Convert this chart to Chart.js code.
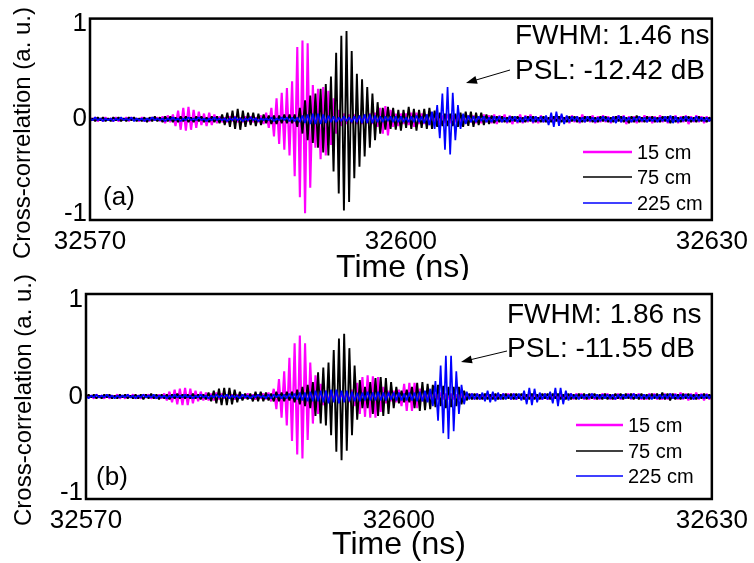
<!DOCTYPE html>
<html>
<head>
<meta charset="utf-8">
<title>Cross-correlation</title>
<script src="https://cdn.jsdelivr.net/npm/chart.js@4.4.1/dist/chart.umd.min.js"></script>
<style>
  html, body { margin: 0; padding: 0; background: #fff; }
  #wrap { position: relative; width: 754px; height: 563px; overflow: hidden; }
  #wrap canvas { position: absolute; left: 0; }
  #chart-a { top: 0; }
  #chart-b { top: 266px; }
</style>
</head>
<body>
<div id="wrap">
  <canvas id="chart-a" width="754" height="280"></canvas>
  <canvas id="chart-b" width="754" height="297"></canvas>
</div>
<script>
// sampling of the traces (ns)
const T_START = 32570;
const T_STEP = 0.25;

const SERIES_LABELS = ['15 cm', '75 cm', '225 cm'];
const X_TICKS = [32570, 32600, 32630];
const Y_TICKS = [-1, 0, 1];

// panel (a)
const a15 = [
  0.02,-0.01,0.02,-0.02,0.01,-0.02,0.02,-0.01,0.01,-0.02,0.02,-0.02,0.01,-0.01,0.02,-0.02,0.02,-0.01,0.01,-0.02,
  0.02,-0.02,0.01,-0.02,0.02,-0.01,0.02,-0.02,0.03,-0.04,0.04,-0.03,0.05,-0.07,0.09,-0.11,0.12,-0.12,0.13,-0.11,
  0.1,-0.09,0.08,-0.06,0.06,-0.07,0.07,-0.06,0.05,-0.04,0.03,-0.03,0.02,-0.03,0.03,-0.02,0.03,-0.03,0.02,-0.03,
  0.03,-0.02,0.03,-0.03,0.02,-0.03,0.04,-0.05,0.07,-0.09,0.12,-0.18,0.22,-0.26,0.28,-0.32,0.33,-0.38,0.4,-0.6,
  0.76,-0.82,0.83,-0.99,0.8,-0.72,0.36,-0.3,0.32,-0.42,0.34,-0.38,0.3,-0.27,0.22,-0.15,0.1,-0.07,0.06,-0.05,
  0.05,-0.04,0.05,-0.05,0.04,-0.05,0.05,-0.04,0.06,-0.05,0.07,-0.08,0.12,-0.15,0.14,-0.17,0.1,-0.08,0.06,-0.07,
  0.06,-0.05,0.06,-0.06,0.07,-0.08,0.07,-0.05,0.06,-0.05,0.05,-0.06,0.05,-0.04,0.04,-0.05,0.04,-0.04,0.05,-0.04,
  0.04,-0.03,0.04,-0.04,0.03,-0.04,0.04,-0.03,0.04,-0.04,0.03,-0.04,0.05,-0.03,0.04,-0.04,0.05,-0.05,0.04,-0.03,
  0.05,-0.04,0.04,-0.05,0.03,-0.04,0.05,-0.04,0.04,-0.03,0.05,-0.04,0.03,-0.04,0.04,-0.03,0.03,-0.04,0.03,-0.03,
  0.03,-0.03,0.04,-0.03,0.03,-0.04,0.04,-0.03,0.03,-0.04,0.05,-0.03,0.03,-0.03,0.04,-0.04,0.03,-0.03,0.04,-0.03,
  0.03,-0.04,0.03,-0.03,0.04,-0.03,0.04,-0.05,0.03,-0.03,0.03,-0.04,0.03,-0.03,0.04,-0.03,0.03,-0.04,0.03,-0.03,
  0.04,-0.03,0.03,-0.04,0.03,-0.03,0.04,-0.04,0.03,-0.03,0.04,-0.05,0.03,-0.03,0.04,-0.03,0.03,-0.04,0.03,-0.02,
  0.02
];
const a75 = [
  -0.02,0.01,-0.02,0.02,-0.01,0.02,-0.02,0.01,-0.02,0.02,-0.01,0.02,-0.02,0.01,-0.02,0.02,-0.01,0.02,-0.02,0.01,
  -0.02,0.02,-0.03,0.02,-0.02,0.03,-0.02,0.02,-0.03,0.03,-0.02,0.03,-0.03,0.02,-0.03,0.03,-0.02,0.03,-0.03,0.02,
  -0.03,0.03,-0.02,0.03,-0.03,0.02,-0.03,0.03,-0.03,0.03,-0.04,0.05,-0.06,0.07,-0.08,0.09,-0.1,0.11,-0.11,0.09,
  -0.08,0.07,-0.06,0.07,-0.07,0.06,-0.06,0.05,-0.04,0.04,-0.05,0.04,-0.05,0.04,-0.04,0.05,-0.04,0.05,-0.04,0.05,
  -0.08,0.12,-0.15,0.2,-0.22,0.25,-0.25,0.27,-0.3,0.32,-0.35,0.37,-0.38,0.45,-0.55,0.7,-0.78,0.88,-0.96,0.93,
  -0.87,0.72,-0.62,0.48,-0.5,0.42,-0.39,0.34,-0.3,0.27,-0.22,0.18,-0.15,0.12,-0.11,0.13,-0.1,0.12,-0.11,0.1,
  -0.12,0.1,-0.09,0.13,-0.1,0.11,-0.12,0.1,-0.09,0.11,-0.1,0.12,-0.1,0.09,-0.08,0.07,-0.07,0.06,-0.07,0.06,
  -0.07,0.06,-0.08,0.07,-0.08,0.08,-0.07,0.08,-0.08,0.07,-0.06,0.07,-0.06,0.05,-0.05,0.04,-0.04,0.03,-0.03,0.03,
  -0.03,0.02,-0.03,0.03,-0.02,0.03,-0.03,0.02,-0.03,0.03,-0.02,0.03,-0.03,0.02,-0.03,0.03,-0.03,0.02,-0.03,0.03,
  -0.02,0.03,-0.03,0.02,-0.03,0.03,-0.02,0.03,-0.03,0.02,-0.03,0.03,-0.02,0.03,-0.03,0.02,-0.03,0.03,-0.02,0.03,
  -0.03,0.02,-0.03,0.03,-0.02,0.03,-0.03,0.02,-0.04,0.03,-0.03,0.04,-0.03,0.02,-0.03,0.03,-0.02,0.03,-0.03,0.02,
  -0.03,0.03,-0.02,0.03,-0.04,0.03,-0.03,0.02,-0.03,0.03,-0.02,0.03,-0.03,0.02,-0.03,0.03,-0.02,0.02,-0.03,0.02,
  -0.02
];
const a225 = [
  0.01,-0.01,0.02,-0.01,0.01,-0.02,0.01,-0.01,0.01,-0.02,0.01,-0.01,0.02,-0.01,0.01,-0.01,0.02,-0.02,0.01,-0.01,
  0.01,-0.02,0.01,-0.01,0.02,-0.01,0.01,-0.01,0.01,-0.02,0.01,-0.01,0.02,-0.01,0.01,-0.02,0.01,-0.01,0.02,-0.01,
  0.01,-0.01,0.02,-0.01,0.01,-0.02,0.01,-0.01,0.02,-0.01,0.01,-0.01,0.01,-0.02,0.01,-0.01,0.02,-0.01,0.01,-0.02,
  0.01,-0.01,0.02,-0.01,0.01,-0.02,0.01,-0.01,0.01,-0.01,0.02,-0.02,0.01,-0.01,0.02,-0.01,0.02,-0.02,0.02,-0.02,
  0.02,-0.03,0.04,-0.04,0.05,-0.05,0.06,-0.05,0.06,-0.05,0.05,-0.04,0.04,-0.03,0.03,-0.03,0.02,-0.02,0.03,-0.02,
  0.02,-0.03,0.03,-0.03,0.04,-0.04,0.05,-0.04,0.05,-0.04,0.04,-0.03,0.03,-0.03,0.03,-0.02,0.03,-0.03,0.03,-0.03,
  0.03,-0.03,0.02,-0.03,0.03,-0.03,0.04,-0.03,0.03,-0.04,0.05,-0.06,0.08,-0.1,0.15,-0.2,0.27,-0.32,0.34,-0.37,
  0.28,-0.22,0.15,-0.1,0.06,-0.05,0.04,-0.03,0.03,-0.03,0.03,-0.02,0.03,-0.03,0.02,-0.03,0.03,-0.02,0.03,-0.03,
  0.02,-0.03,0.03,-0.02,0.03,-0.03,0.02,-0.03,0.03,-0.02,0.03,-0.03,0.03,-0.02,0.03,-0.03,0.04,-0.06,0.07,-0.08,
  0.08,-0.07,0.06,-0.05,0.04,-0.03,0.03,-0.02,0.03,-0.03,0.02,-0.03,0.03,-0.02,0.02,-0.03,0.02,-0.02,0.03,-0.02,
  0.02,-0.03,0.03,-0.04,0.04,-0.03,0.03,-0.02,0.02,-0.03,0.02,-0.02,0.03,-0.02,0.02,-0.03,0.02,-0.02,0.02,-0.03,
  0.02,-0.02,0.03,-0.03,0.04,-0.04,0.03,-0.03,0.02,-0.02,0.03,-0.02,0.02,-0.02,0.03,-0.02,0.02,-0.02,0.02,-0.02,
  0.02
];

// panel (b)
const b15 = [
  0.02,-0.01,0.01,-0.02,0.02,-0.01,0.01,-0.02,0.02,-0.02,0.01,-0.01,0.02,-0.02,0.01,-0.02,0.02,-0.01,0.02,-0.02,
  0.01,-0.02,0.02,-0.01,0.02,-0.02,0.01,-0.02,0.02,-0.02,0.03,-0.04,0.05,-0.06,0.07,-0.08,0.08,-0.09,0.09,-0.09,
  0.08,-0.07,0.06,-0.05,0.05,-0.04,0.04,-0.04,0.03,-0.04,0.04,-0.03,0.03,-0.02,0.02,-0.02,0.02,-0.03,0.02,-0.02,
  0.02,-0.02,0.03,-0.02,0.02,-0.03,0.02,-0.02,0.03,-0.03,0.04,-0.05,0.08,-0.13,0.18,-0.22,0.26,-0.3,0.4,-0.46,
  0.55,-0.6,0.63,-0.64,0.55,-0.45,0.35,-0.28,0.22,-0.18,0.13,-0.09,0.06,-0.05,0.05,-0.04,0.05,-0.05,0.04,-0.05,
  0.05,-0.06,0.07,-0.1,0.14,-0.18,0.2,-0.21,0.22,-0.22,0.21,-0.22,0.2,-0.16,0.1,-0.07,0.06,-0.05,0.06,-0.06,
  0.07,-0.1,0.13,-0.15,0.14,-0.15,0.14,-0.12,0.08,-0.05,0.04,-0.03,0.03,-0.04,0.03,-0.03,0.04,-0.03,0.03,-0.03,
  0.03,-0.03,0.02,-0.03,0.03,-0.03,0.03,-0.02,0.03,-0.03,0.03,-0.03,0.02,-0.03,0.03,-0.03,0.03,-0.02,0.03,-0.03,
  0.03,-0.02,0.03,-0.03,0.03,-0.03,0.02,-0.03,0.03,-0.03,0.03,-0.02,0.03,-0.03,0.02,-0.03,0.03,-0.03,0.02,-0.03,
  0.03,-0.03,0.02,-0.03,0.03,-0.02,0.03,-0.03,0.03,-0.02,0.03,-0.03,0.02,-0.03,0.03,-0.03,0.02,-0.03,0.03,-0.02,
  0.03,-0.03,0.02,-0.03,0.03,-0.03,0.02,-0.02,0.03,-0.03,0.03,-0.02,0.03,-0.03,0.02,-0.03,0.03,-0.02,0.03,-0.03,
  0.02,-0.03,0.03,-0.03,0.03,-0.02,0.03,-0.03,0.04,-0.03,0.03,-0.04,0.03,-0.03,0.04,-0.03,0.03,-0.04,0.03,-0.03,
  0.02
];
const b75 = [
  -0.02,0.02,-0.01,0.02,-0.02,0.01,-0.02,0.02,-0.01,0.02,-0.02,0.01,-0.02,0.02,-0.01,0.02,-0.02,0.01,-0.02,0.02,
  -0.02,0.02,-0.03,0.02,-0.02,0.03,-0.02,0.02,-0.03,0.02,-0.02,0.02,-0.03,0.02,-0.02,0.03,-0.02,0.02,-0.02,0.02,
  -0.02,0.03,-0.02,0.02,-0.03,0.02,-0.03,0.04,-0.05,0.06,-0.07,0.08,-0.09,0.09,-0.09,0.09,-0.08,0.07,-0.06,0.05,
  -0.04,0.03,-0.03,0.03,-0.05,0.05,-0.05,0.05,-0.05,0.04,-0.04,0.03,-0.05,0.05,-0.05,0.04,-0.05,0.05,-0.04,0.05,
  -0.06,0.07,-0.08,0.1,-0.1,0.12,-0.12,0.15,-0.2,0.25,-0.28,0.3,-0.3,0.35,-0.4,0.48,-0.57,0.6,-0.66,0.65,
  -0.56,0.5,-0.4,0.32,-0.24,0.17,-0.12,0.1,-0.12,0.15,-0.18,0.19,-0.2,0.2,-0.2,0.19,-0.18,0.15,-0.12,0.1,
  -0.07,0.06,-0.06,0.07,-0.06,0.1,-0.12,0.14,-0.15,0.15,-0.14,0.13,-0.13,0.12,-0.11,0.12,-0.1,0.11,-0.12,0.1,
  -0.11,0.1,-0.1,0.1,-0.08,0.06,-0.04,0.03,-0.03,0.03,-0.03,0.02,-0.03,0.03,-0.03,0.02,-0.03,0.03,-0.03,0.02,
  -0.03,0.03,-0.02,0.03,-0.03,0.03,-0.02,0.03,-0.03,0.02,-0.03,0.03,-0.03,0.02,-0.03,0.03,-0.02,0.03,-0.03,0.03,
  -0.02,0.03,-0.03,0.02,-0.03,0.03,-0.03,0.02,-0.03,0.03,-0.02,0.03,-0.03,0.03,-0.02,0.03,-0.03,0.02,-0.03,0.03,
  -0.03,0.02,-0.03,0.03,-0.02,0.03,-0.03,0.03,-0.02,0.03,-0.03,0.02,-0.03,0.03,-0.03,0.02,-0.03,0.03,-0.02,0.03,
  -0.03,0.04,-0.03,0.03,-0.04,0.03,-0.03,0.02,-0.03,0.03,-0.02,0.03,-0.03,0.02,-0.03,0.02,-0.02,0.03,-0.02,0.02,
  -0.02
];
const b225 = [
  0.01,-0.02,0.01,-0.01,0.02,-0.01,0.01,-0.01,0.02,-0.01,0.01,-0.02,0.01,-0.01,0.01,-0.01,0.02,-0.01,0.01,-0.02,
  0.01,-0.01,0.02,-0.01,0.01,-0.01,0.02,-0.02,0.01,-0.01,0.01,-0.02,0.01,-0.01,0.02,-0.01,0.01,-0.01,0.02,-0.01,
  0.01,-0.02,0.01,-0.01,0.02,-0.01,0.01,-0.02,0.01,-0.01,0.02,-0.01,0.01,-0.01,0.02,-0.02,0.01,-0.01,0.01,-0.02,
  0.02,-0.01,0.01,-0.02,0.01,-0.01,0.02,-0.01,0.01,-0.02,0.02,-0.02,0.02,-0.01,0.02,-0.02,0.02,-0.02,0.03,-0.02,
  0.03,-0.03,0.04,-0.04,0.04,-0.05,0.05,-0.05,0.06,-0.05,0.06,-0.06,0.06,-0.07,0.07,-0.06,0.07,-0.07,0.06,-0.06,
  0.06,-0.05,0.05,-0.05,0.04,-0.05,0.04,-0.04,0.05,-0.04,0.04,-0.04,0.05,-0.04,0.04,-0.04,0.04,-0.03,0.04,-0.04,
  0.04,-0.04,0.03,-0.04,0.04,-0.04,0.04,-0.05,0.05,-0.05,0.06,-0.06,0.08,-0.1,0.16,-0.25,0.32,-0.38,0.42,-0.44,
  0.42,-0.36,0.26,-0.18,0.12,-0.08,0.05,-0.03,0.03,-0.03,0.03,-0.03,0.04,-0.05,0.06,-0.06,0.05,-0.05,0.04,-0.03,
  0.03,-0.03,0.02,-0.03,0.03,-0.03,0.03,-0.04,0.06,-0.08,0.09,-0.09,0.08,-0.06,0.04,-0.03,0.03,-0.03,0.05,-0.07,
  0.09,-0.1,0.09,-0.08,0.06,-0.04,0.03,-0.02,0.02,-0.03,0.02,-0.02,0.02,-0.02,0.03,-0.02,0.02,-0.02,0.02,-0.02,
  0.02,-0.02,0.02,-0.03,0.02,-0.02,0.02,-0.02,0.02,-0.02,0.03,-0.02,0.02,-0.02,0.02,-0.02,0.02,-0.03,0.02,-0.02,
  0.02,-0.02,0.02,-0.02,0.03,-0.02,0.02,-0.02,0.02,-0.02,0.02,-0.02,0.02,-0.03,0.02,-0.02,0.02,-0.02,0.02,-0.02,
  0.02
];

const FONT = '"Liberation Sans", Arial, Helvetica, sans-serif';
const COLORS = ['#ff00ff', '#000000', '#0000ff'];
const WIDTHS = [2.1, 1.9, 1.7];

function toPoints(values) {
  return values.map((v, i) => ({ x: T_START + i * T_STEP, y: v }));
}

// frame, titles, notes, arrow and legend drawn on top of the plot
const panelDecor = {
  id: 'panelDecor',
  afterDraw(chart, args, o) {
    const ctx = chart.ctx;
    const area = chart.chartArea;
    ctx.save();

    ctx.strokeStyle = '#000';
    ctx.lineWidth = 2.5;
    ctx.strokeRect(area.left, area.top, area.right - area.left, area.bottom - area.top);

    ctx.fillStyle = '#000';
    ctx.textBaseline = 'middle';

    ctx.save();
    ctx.translate(o.yTitle[0], o.yTitle[1]);
    ctx.rotate(-Math.PI / 2);
    ctx.textAlign = 'center';
    ctx.font = '24px ' + FONT;
    ctx.fillText('Cross-correlation (a. u.)', 0, 0);
    ctx.restore();

    ctx.textAlign = 'center';
    ctx.font = '32px ' + FONT;
    ctx.fillText('Time (ns)', o.xTitle[0], o.xTitle[1]);

    ctx.font = '26px ' + FONT;
    ctx.fillText(o.tag, o.tagPos[0], o.tagPos[1]);

    ctx.textAlign = 'left';
    ctx.font = '28px ' + FONT;
    ctx.fillText(o.fwhm, o.noteX, o.fwhmY);
    ctx.fillText(o.psl, o.noteX, o.pslY);

    // arrow pointing at the side lobe
    const [x1, y1, x2, y2] = o.arrow;
    const ang = Math.atan2(y2 - y1, x2 - x1);
    ctx.lineWidth = 1;
    ctx.beginPath();
    ctx.moveTo(x1, y1);
    ctx.lineTo(x2 - 8 * Math.cos(ang), y2 - 8 * Math.sin(ang));
    ctx.stroke();
    ctx.beginPath();
    ctx.moveTo(x2, y2);
    ctx.lineTo(x2 - 11 * Math.cos(ang) + 4 * Math.sin(ang), y2 - 11 * Math.sin(ang) - 4 * Math.cos(ang));
    ctx.lineTo(x2 - 11 * Math.cos(ang) - 4 * Math.sin(ang), y2 - 11 * Math.sin(ang) + 4 * Math.cos(ang));
    ctx.closePath();
    ctx.fill();

    // legend
    ctx.font = '20px ' + FONT;
    chart.data.datasets.forEach((ds, i) => {
      const y = o.legendY[i];
      ctx.strokeStyle = ds.borderColor;
      ctx.lineWidth = i === 0 ? 2.5 : 1.6;
      ctx.beginPath();
      ctx.moveTo(o.legendX[0], y);
      ctx.lineTo(o.legendX[1], y);
      ctx.stroke();
      ctx.fillStyle = '#000';
      ctx.fillText(ds.label, o.legendX[2], y + 1);
    });

    ctx.restore();
  }
};

function makePanel(canvasId, series, p) {
  const ctx = document.getElementById(canvasId).getContext('2d');
  return new Chart(ctx, {
    type: 'line',
    data: {
      datasets: series.map((values, i) => ({
        label: SERIES_LABELS[i],
        data: toPoints(values),
        borderColor: COLORS[i],
        borderWidth: WIDTHS[i],
        borderJoinStyle: 'bevel',
        pointRadius: 0,
        tension: 0,
        fill: false,
        order: 3 - i
      }))
    },
    options: {
      responsive: false,
      animation: false,
      events: [],
      parsing: false,
      layout: {
        padding: { left: 0, top: p.area.top, right: p.width - p.area.right, bottom: 0 }
      },
      plugins: {
        legend: { display: false },
        tooltip: { enabled: false },
        panelDecor: p
      },
      scales: {
        x: {
          type: 'linear',
          min: X_TICKS[0],
          max: X_TICKS[X_TICKS.length - 1],
          grid: { display: false, drawTicks: false },
          border: { display: false },
          afterBuildTicks: s => { s.ticks = X_TICKS.map(v => ({ value: v })); },
          afterFit: s => { s.height = p.height - p.area.bottom; },
          ticks: {
            color: '#000',
            font: { family: FONT, size: 26 },
            padding: 6,
            maxRotation: 0,
            autoSkip: false,
            callback: v => String(v)
          }
        },
        y: {
          min: -1.06,
          max: 1.06,
          grid: { display: false, drawTicks: false },
          border: { display: false },
          afterBuildTicks: s => { s.ticks = Y_TICKS.map(v => ({ value: v })); },
          afterFit: s => { s.width = p.area.left; },
          ticks: {
            color: '#000',
            font: { family: FONT, size: 26 },
            padding: 3,
            callback: v => String(v)
          }
        }
      }
    },
    plugins: [panelDecor]
  });
}

makePanel('chart-a', [a15, a75, a225], {
  width: 754, height: 280,
  area: { left: 90, top: 15, right: 718, bottom: 220 },
  yTitle: [23, 133],
  xTitle: [403, 268],
  tag: '(a)', tagPos: [119, 198],
  fwhm: 'FWHM: 1.46 ns', psl: 'PSL: -12.42 dB',
  noteX: 515, fwhmY: 36, pslY: 71,
  arrow: [510, 70, 466, 83],
  legendX: [583, 632, 637],
  legendY: [152, 177, 203]
});

makePanel('chart-b', [b15, b75, b225], {
  width: 754, height: 297,
  area: { left: 86, top: 28, right: 714, bottom: 233 },
  yTitle: [24, 134],
  xTitle: [399, 279],
  tag: '(b)', tagPos: [112, 212],
  fwhm: 'FWHM: 1.86 ns', psl: 'PSL: -11.55 dB',
  noteX: 507, fwhmY: 49, pslY: 83,
  arrow: [507, 85, 461, 96],
  legendX: [576, 623, 628],
  legendY: [159, 185, 210]
});
</script>
</body>
</html>
